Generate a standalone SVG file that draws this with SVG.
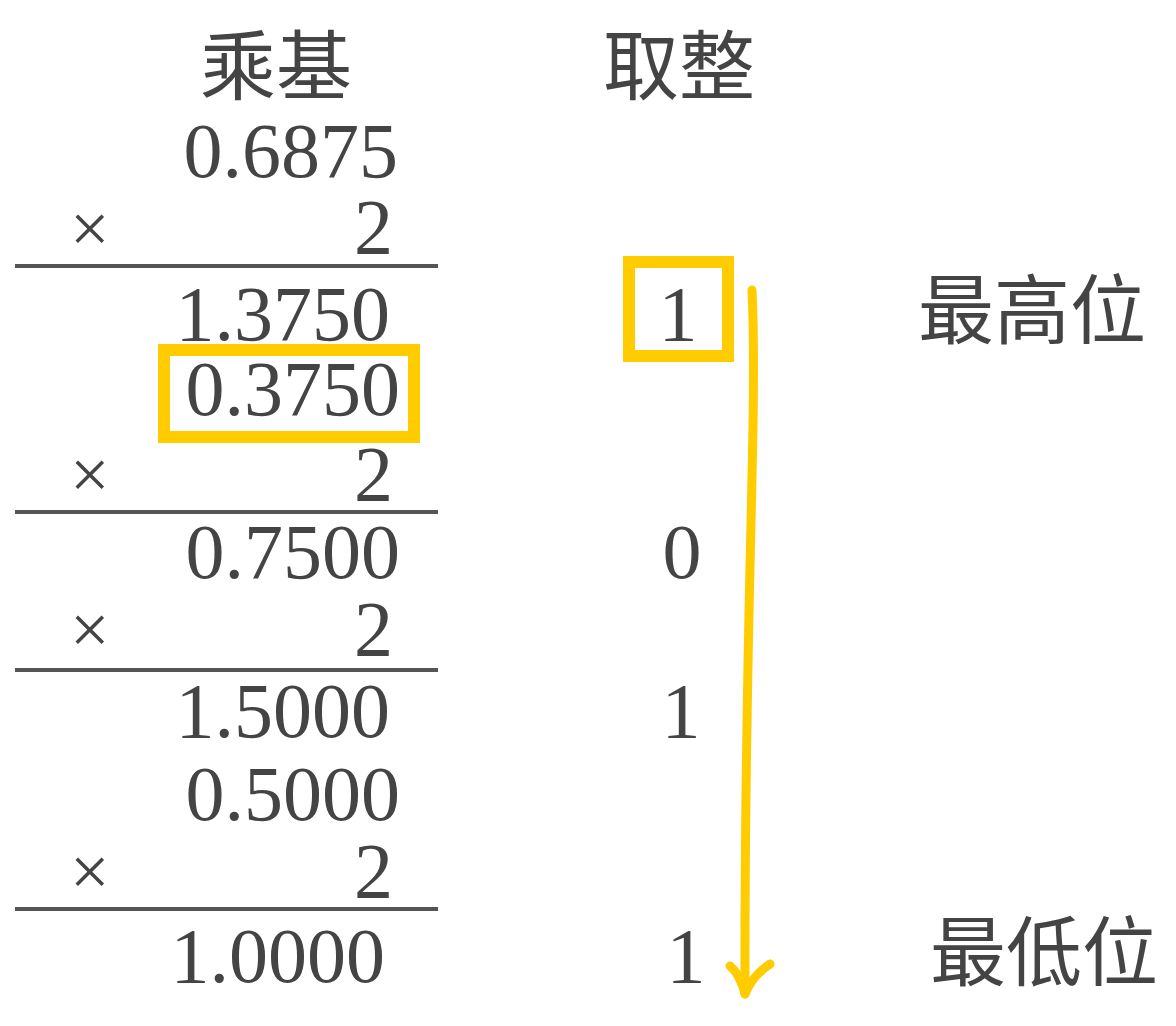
<svg xmlns="http://www.w3.org/2000/svg" width="1176" height="1026" viewBox="0 0 1176 1026">
<style>
.t{font-family:"Liberation Serif","Noto Sans CJK SC",serif;fill:#444}
.n{font-size:78px;text-anchor:end}
.c{font-size:76px}
.m{font-size:70px}
.b{font-size:78px;text-anchor:middle}
.rule{stroke:#555;stroke-width:4}
.hl{fill:none;stroke:#FFCC00;stroke-width:12}
.arr{fill:none;stroke:#FFCC00;stroke-width:9;stroke-linecap:round;stroke-linejoin:round}
</style>
<rect width="1176" height="1026" fill="#fff"/>
<g id="headers">
<text class="t c" x="200" y="94">乘基</text>
<text class="t c" x="603" y="94">取整</text>
</g>
<g id="calc">
<text class="t n" x="398" y="177">0.6875</text>
<text class="t m" x="70" y="252">×</text>
<text class="t n" x="393" y="253">2</text>
<line class="rule" x1="15" y1="266" x2="438" y2="266"/>
<text class="t n" x="390" y="340">1.3750</text>
<text class="t n" x="400" y="415">0.3750</text>
<text class="t m" x="70" y="498">×</text>
<text class="t n" x="393" y="500">2</text>
<line class="rule" x1="15" y1="512" x2="438" y2="512"/>
<text class="t n" x="400" y="578">0.7500</text>
<text class="t m" x="70" y="653">×</text>
<text class="t n" x="393" y="655">2</text>
<line class="rule" x1="15" y1="670" x2="438" y2="670"/>
<text class="t n" x="390" y="737">1.5000</text>
<text class="t n" x="400" y="820">0.5000</text>
<text class="t m" x="70" y="895">×</text>
<text class="t n" x="393" y="897">2</text>
<line class="rule" x1="15" y1="909" x2="438" y2="909"/>
<text class="t n" x="385" y="982">1.0000</text>
</g>
<g id="bits">
<text class="t b" x="678" y="340">1</text>
<text class="t b" x="682" y="578">0</text>
<text class="t b" x="681" y="737">1</text>
<text class="t b" x="686" y="982">1</text>
</g>
<g id="labels">
<text class="t c" x="918" y="338">最高位</text>
<text class="t c" x="930" y="980">最低位</text>
</g>
<g id="highlights">
<rect class="hl" x="164" y="350" width="250" height="87"/>
<rect class="hl" x="629" y="262" width="99" height="94"/>
</g>
<g id="connectors">
<path class="arr" d="M 752 290 C 758 420, 744 620, 745 994"/>
<path class="arr" d="M 730 966 Q 740 974 745 994 Q 752 976 770 964"/>
</g>
</svg>
